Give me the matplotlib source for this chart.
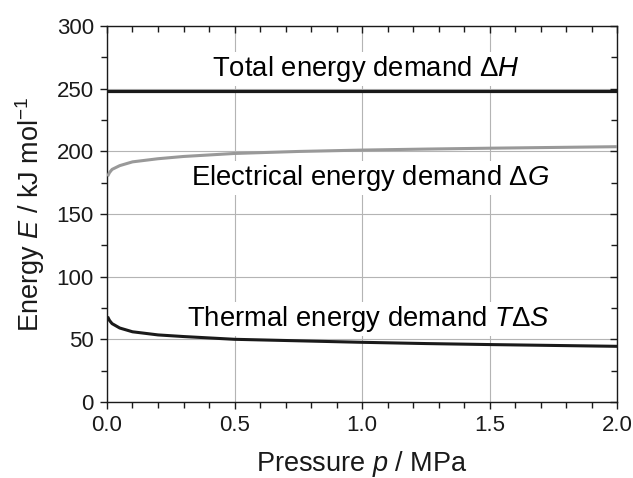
import matplotlib
matplotlib.use("Agg")
import matplotlib.pyplot as plt
import matplotlib.lines as mlines
from matplotlib.ticker import MultipleLocator

plt.rcParams['font.family'] = ['Liberation Sans', 'DejaVu Sans']
plt.rcParams['mathtext.fontset'] = 'custom'
plt.rcParams['mathtext.rm'] = 'Liberation Sans'
plt.rcParams['mathtext.it'] = 'Liberation Sans:italic'

# values
pressure = [0.005, 0.01, 0.02, 0.05, 0.1, 0.2, 0.3, 0.5, 0.75, 1.0, 1.25, 1.5, 1.75, 2.0]
delta_G = [181.0, 183.0, 185.5, 188.5, 191.5, 194.0, 195.8, 198.2, 199.8, 200.9, 201.7, 202.4, 203.0, 203.6]
T_delta_S = [67.0, 65.0, 62.5, 59.0, 56.0, 53.5, 52.2, 50.0, 48.8, 47.6, 46.6, 45.8, 45.1, 44.4]
delta_H = 248.0

fig = plt.figure(figsize=(6.33, 4.78), dpi=100)
ax = fig.add_axes([0.169, 0.159, 0.806, 0.787])

ax.grid(True, which='major', color='#b4b4b4', linewidth=0.8)
ax.set_axisbelow(True)

ax.axhline(delta_H, color='#1a1a1a', linewidth=2.3, zorder=3)
ax.plot(pressure, delta_G, color='#999999', linewidth=2.2, zorder=3)
ax.plot(pressure, T_delta_S, color='#1a1a1a', linewidth=2.2, zorder=3)

box = dict(facecolor='white', edgecolor='none', pad=1.5)
ax.text(0.41, 260, r'Total energy demand Δ$H$', fontsize=19.8, ha='left', va='baseline', bbox=box, zorder=2)
ax.text(0.33, 173, r'Electrical energy demand Δ$G$', fontsize=19.8, ha='left', va='baseline', bbox=box, zorder=2)
ax.text(0.315, 60.7, r'Thermal energy demand $T$Δ$S$', fontsize=19.8, ha='left', va='baseline', bbox=box, zorder=2)

ax.set_xlim(0, 2.0)
ax.set_ylim(0, 300)
ax.xaxis.set_major_locator(MultipleLocator(0.5))
ax.xaxis.set_minor_locator(MultipleLocator(0.1))
ax.yaxis.set_major_locator(MultipleLocator(50))
ax.yaxis.set_minor_locator(MultipleLocator(25))
ax.xaxis.set_major_formatter(plt.FormatStrFormatter('%.1f'))

ax.tick_params(which='both', direction='out', top=True, right=True,
               labelsize=16, width=1, colors='#1a1a1a')
ax.tick_params(which='major', length=5, pad=4.5)
ax.tick_params(which='minor', length=4)
for sp in ax.spines.values():
    sp.set_linewidth(1)
    sp.set_color('#1a1a1a')

# top and right ticks point inwards, bottom and left point out
for t in ax.xaxis.get_major_ticks() + ax.xaxis.get_minor_ticks():
    t.tick2line.set_marker(mlines.TICKDOWN)
for t in ax.yaxis.get_major_ticks() + ax.yaxis.get_minor_ticks():
    t.tick2line.set_marker(mlines.TICKLEFT)

ax.set_xlabel(r'Pressure $p$ / MPa', fontsize=19.5, color='#1a1a1a', labelpad=9)
ax.set_ylabel(r'Energy $E$ / kJ mol$^{-1}$', fontsize=19.5, color='#1a1a1a', labelpad=7)

fig.savefig('out.png', dpi=100)
